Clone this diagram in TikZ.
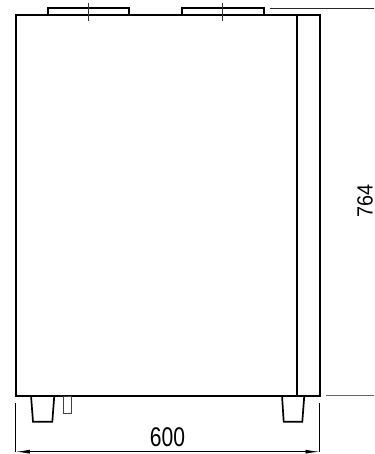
\documentclass[tikz,border=0pt]{standalone}
\usepackage{graphicx}
\usepackage{fontspec}
\setmainfont{Liberation Sans}
\usetikzlibrary{arrows.meta}
\tikzset{
  thick line/.style={line width=2pt,line cap=butt,line join=miter,black},
  leg line/.style={line width=1.7pt,line cap=butt,line join=miter,black},
  mid line/.style={line width=1pt,black!85},
  thin line/.style={line width=0.8pt,black},
  ext line/.style={line width=1.2pt,black!60},
  dim line/.style={line width=0.9pt,black,{Latex[length=14pt,width=4pt]}-{Latex[length=14pt,width=4pt]}},
  label text/.style={inner sep=0pt,text=black}
}
\begin{document}
\begin{tikzpicture}[x=1pt,y=-1pt]
\useasboundingbox (0,0) rectangle (374,454);
% body
\draw[thick line] (15.5,15) rectangle (319.5,395.5);
\draw[thick line] (296.7,15) -- (296.7,395.5);
\draw[thick line,line width=2.3pt] (296.7,57) -- (296.7,81);
% top stubs
\draw[thick line] (48,15) -- (48,8) -- (129,8) -- (129,15);
\draw[thick line] (182,15) -- (182,8) -- (263.7,8) -- (263.7,15);
\draw[thin line,black!80] (88.5,3) -- (88.5,21.5);
\draw[thin line,black!80] (222.7,3) -- (222.7,21.5);
% legs
\draw[leg line] (31,395.5) -- (33,421.7) -- (52.3,421.7) -- (54.3,395.5);
\draw[leg line] (282,395.5) -- (283.7,421.7) -- (302.3,421.7) -- (304.3,395.5);
% small pin
\draw[thin line,black!75] (63.5,396) rectangle (71,413.5);
% dimensions
\coordinate (tl) at (270,8.5);
\coordinate (tr) at (374,8.5);
\coordinate (br) at (326,395.5);
\coordinate (brr) at (374,395.5);
\coordinate (dl) at (15.8,451.7);
\coordinate (dr) at (319.5,451.7);
\draw[mid line] (tl) -- (tr);
\draw[ext line] (br) -- (brr);
\draw[thin line] (15.8,403) -- (dl);
\draw[thin line] (319.5,403) -- (dr);
\draw[dim line] (dl) -- (dr);
\node[label text] (w) at (167.5,437.5) {\fontsize{27}{29}\selectfont\scalebox{0.78}[1]{600}};
\node[label text,rotate=90] (h) at (365,200.5) {\fontsize{22}{24}\selectfont\scalebox{0.9}[1]{764}};
\end{tikzpicture}
\end{document}
